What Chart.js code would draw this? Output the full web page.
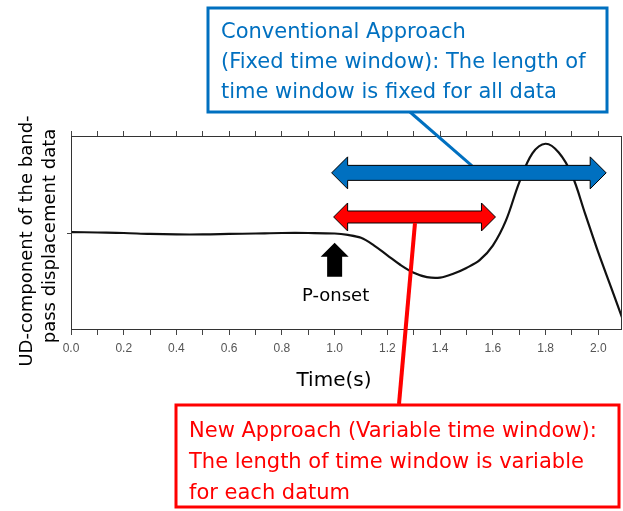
<!DOCTYPE html>
<html>
<head>
<meta charset="utf-8">
<script src="https://cdn.jsdelivr.net/npm/chart.js@4.4.1/dist/chart.umd.min.js"></script>
<style>html,body{margin:0;background:#fff}</style>
</head>
<body>
<canvas id="graficoOnda" width="623" height="511"></canvas>
<script>
// Data
const tiempos = [0, 0.1, 0.2, 0.3, 0.4, 0.5, 0.6, 0.7, 0.8, 0.9, 1.0, 1.05, 1.1, 1.15, 1.2, 1.25, 1.3, 1.35, 1.4,
  1.45, 1.5, 1.55, 1.6, 1.65, 1.7, 1.75, 1.8, 1.85, 1.9, 1.95, 2.0, 2.05, 2.09];
const desplazamiento = [0.01, 0.005, 0, -0.01, -0.015, -0.015, -0.01, -0.005, 0, 0, -0.005, -0.02, -0.05, -0.13,
  -0.23, -0.33, -0.41, -0.455, -0.46, -0.42, -0.36, -0.28, -0.13, 0.13, 0.52, 0.82, 0.92, 0.83, 0.6, 0.2, -0.2, -0.57, -0.87];
const etiquetasX = ['0.0', '0.2', '0.4', '0.6', '0.8', '1.0', '1.2', '1.4', '1.6', '1.8', '2.0'];

// Time windows (s) and the level where each arrow is drawn
const inicioVentana = 1.0;
const finVentanaFija = 2.03;
const finVentanaVariable = 1.61;
const nivelFija = 0.62;
const nivelVariable = 0.165;
const ondaP = 1.0;
const ondaPPunta = -0.10;
const ondaPBase = -0.45;

const textoFija = ['Conventional Approach', '(Fixed time window): The length of', 'time window is fixed for all data'];
const textoVariable = ['New Approach (Variable time window):', 'The length of time window is variable', 'for each datum'];
const tituloY = ['UD-component of the band-', 'pass displacement data'];

const AZUL = '#0070C0';
const ROJO = '#FF0000';
const FUENTE = '"DejaVu Sans", sans-serif';

Chart.defaults.font.family = FUENTE;

// double-headed horizontal arrow
function flechaDoble(ctx, x1, x2, yc, grosor, alto, punta, color) {
  const g = grosor / 2, h = alto / 2;
  ctx.beginPath();
  ctx.moveTo(x1, yc);
  ctx.lineTo(x1 + punta, yc - h);
  ctx.lineTo(x1 + punta, yc - g);
  ctx.lineTo(x2 - punta, yc - g);
  ctx.lineTo(x2 - punta, yc - h);
  ctx.lineTo(x2, yc);
  ctx.lineTo(x2 - punta, yc + h);
  ctx.lineTo(x2 - punta, yc + g);
  ctx.lineTo(x1 + punta, yc + g);
  ctx.lineTo(x1 + punta, yc + h);
  ctx.closePath();
  ctx.fillStyle = color;
  ctx.fill();
  ctx.strokeStyle = '#000';
  ctx.lineWidth = 1;
  ctx.stroke();
}

const anotaciones = {
  id: 'anotaciones',
  afterDatasetsDraw(chart) {
    const {ctx, chartArea: a, scales: {x, y}} = chart;
    ctx.save();

    // plot frame
    ctx.strokeStyle = '#333';
    ctx.lineWidth = 1;
    ctx.strokeRect(a.left + 0.5, a.top + 0.5, a.right - a.left - 1, a.bottom - a.top - 1);

    const xi = x.getPixelForValue(inicioVentana);
    const yFija = y.getPixelForValue(nivelFija);
    const yVar = y.getPixelForValue(nivelVariable);

    // callout lines
    ctx.lineWidth = 3;
    ctx.strokeStyle = AZUL;
    ctx.beginPath();
    ctx.moveTo(410, 112);
    ctx.lineTo(472, yFija - 7);
    ctx.stroke();

    flechaDoble(ctx, xi - 3, x.getPixelForValue(finVentanaFija), yFija, 15, 32, 16, AZUL);
    flechaDoble(ctx, xi - 1, x.getPixelForValue(finVentanaVariable), yVar, 12, 28, 14, ROJO);

    ctx.lineWidth = 4;
    ctx.strokeStyle = ROJO;
    ctx.beginPath();
    ctx.moveTo(415, yVar + 6);
    ctx.lineTo(399, 404);
    ctx.stroke();

    // P-onset arrow
    const xp = x.getPixelForValue(ondaP);
    const yt = y.getPixelForValue(ondaPPunta);
    const yb = y.getPixelForValue(ondaPBase);
    ctx.fillStyle = '#000';
    ctx.beginPath();
    ctx.moveTo(xp, yt);
    ctx.lineTo(xp + 14, yt + 14);
    ctx.lineTo(xp + 7.5, yt + 14);
    ctx.lineTo(xp + 7.5, yb);
    ctx.lineTo(xp - 7.5, yb);
    ctx.lineTo(xp - 7.5, yt + 14);
    ctx.lineTo(xp - 14, yt + 14);
    ctx.closePath();
    ctx.fill();

    ctx.textBaseline = 'middle';
    ctx.textAlign = 'center';
    ctx.font = '18px ' + FUENTE;
    ctx.fillText('P-onset', xp + 1, 296);

    // axis titles
    ctx.font = '20px ' + FUENTE;
    ctx.fillText('Time(s)', 334, 381);
    ctx.save();
    ctx.rotate(-Math.PI / 2);
    ctx.font = '18px ' + FUENTE;
    ctx.fillText(tituloY[0], -241, 27);
    ctx.fillText(tituloY[1], -236, 50);
    ctx.restore();

    // text boxes
    ctx.textAlign = 'left';
    ctx.font = '21px ' + FUENTE;
    ctx.lineWidth = 3;
    ctx.fillStyle = '#fff';
    ctx.fillRect(208, 8, 399, 104);
    ctx.strokeStyle = AZUL;
    ctx.strokeRect(208, 8, 399, 104);
    ctx.fillStyle = AZUL;
    textoFija.forEach((t, i) => ctx.fillText(t, 221, 33 + i * 30));

    ctx.fillStyle = '#fff';
    ctx.fillRect(176, 405, 443, 102);
    ctx.strokeStyle = ROJO;
    ctx.strokeRect(176, 405, 443, 102);
    ctx.fillStyle = ROJO;
    textoVariable.forEach((t, i) => ctx.fillText(t, 189, 432 + i * 31));

    ctx.restore();
  }
};

const ctx = document.getElementById('graficoOnda').getContext('2d');
const chart = new Chart(ctx, {
  type: 'line',
  data: {
    datasets: [{
      data: tiempos.map((t, i) => ({x: t, y: desplazamiento[i]})),
      borderColor: '#111',
      borderWidth: 2.2,
      pointRadius: 0,
      tension: 0.35
    }]
  },
  options: {
    responsive: false,
    animation: false,
    devicePixelRatio: 1,
    layout: {padding: {left: 61, right: 1, top: 130, bottom: 151}},
    plugins: {legend: {display: false}, tooltip: {enabled: false}},
    scales: {
      x: {
        type: 'linear',
        position: 'bottom',
        min: 0,
        max: 2.09,
        border: {display: false},
        grid: {drawOnChartArea: false, tickLength: 5, color: '#444'},
        ticks: {
          stepSize: 0.1,
          autoSkip: false,
          includeBounds: false,
          maxRotation: 0,
          padding: 6,
          color: '#555',
          font: {size: 12, family: '"Liberation Sans", Arial, sans-serif'},
          callback: v => {
            const k = Math.round(v * 10);
            return k % 2 === 0 ? etiquetasX[k / 2] : '';
          }
        },
        afterFit: s => { s.height = 30; }
      },
      xTop: {
        type: 'linear',
        position: 'top',
        min: 0,
        max: 2.09,
        border: {display: false},
        grid: {drawOnChartArea: false, tickLength: 5, color: '#444'},
        ticks: {stepSize: 0.1, autoSkip: false, includeBounds: false, display: false},
        afterFit: s => { s.height = 6; }
      },
      y: {
        min: -1,
        max: 1,
        border: {display: false},
        grid: {drawOnChartArea: false, tickLength: 4, color: '#444'},
        ticks: {display: false},
        afterBuildTicks: s => { s.ticks = [{value: 0}]; },
        afterFit: s => { s.width = 10; }
      }
    }
  },
  plugins: [anotaciones]
});
</script>
</body>
</html>
